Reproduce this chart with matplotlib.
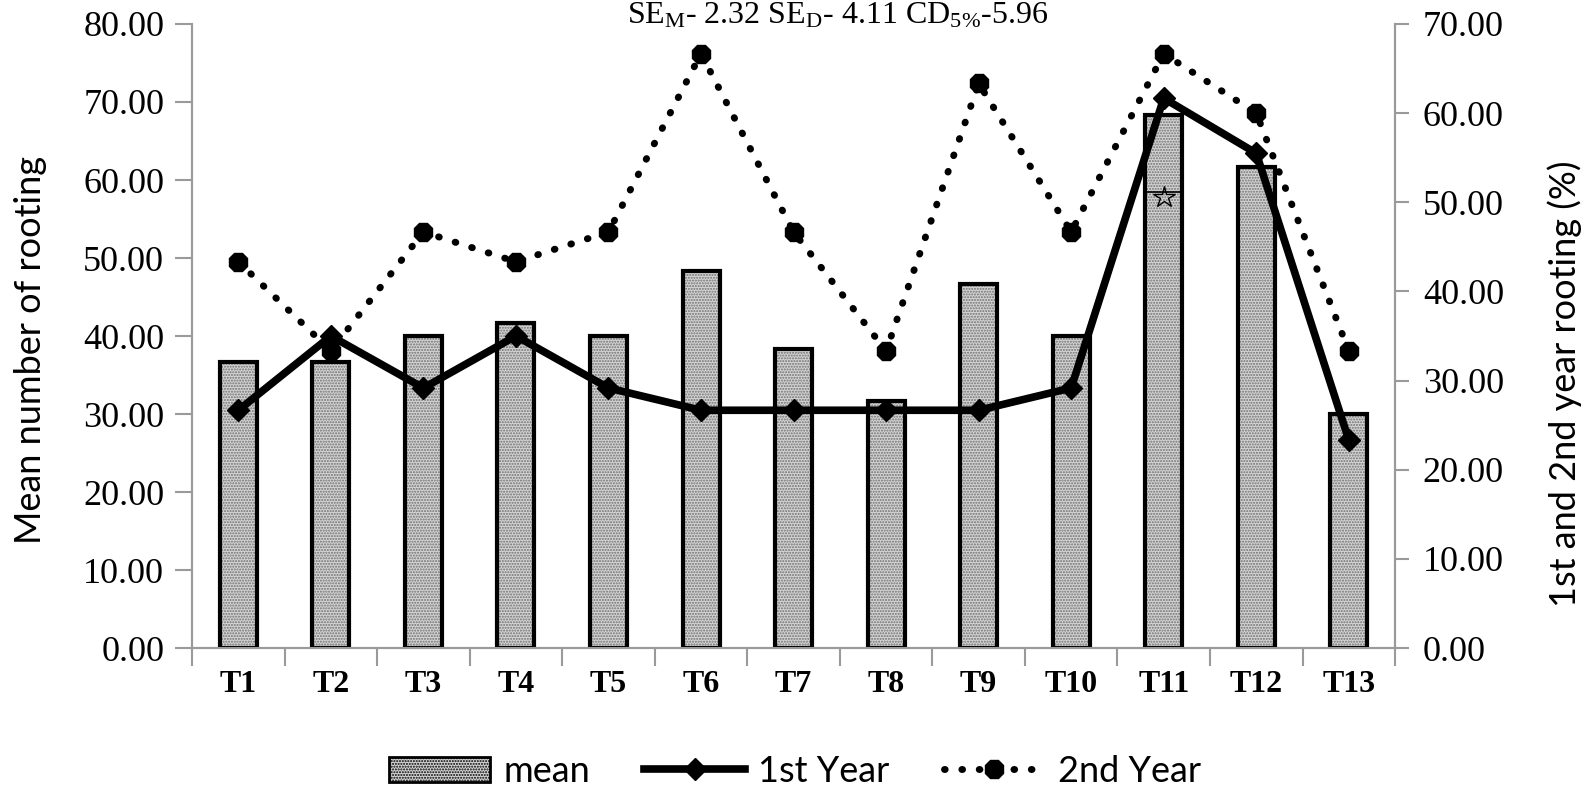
import matplotlib.pyplot as plt
import numpy as np
from matplotlib.patches import Patch
from matplotlib.lines import Line2D

plt.rcParams["mathtext.fontset"] = "custom"
plt.rcParams["mathtext.rm"] = "Liberation Serif"
plt.rcParams["mathtext.it"] = "Liberation Serif"

# Data
treatments = ["T1", "T2", "T3", "T4", "T5", "T6", "T7", "T8", "T9", "T10", "T11", "T12", "T13"]
mean_rooting = [36.67, 36.67, 40.00, 41.67, 40.00, 48.33, 38.33, 31.67, 46.67, 40.00, 68.33, 61.67, 30.00]
first_year = [26.67, 35.00, 29.17, 35.00, 29.17, 26.67, 26.67, 26.67, 26.67, 29.17, 61.67, 55.50, 23.33]
second_year = [43.33, 33.33, 46.67, 43.33, 46.67, 66.67, 46.67, 33.33, 63.33, 46.67, 66.67, 60.00, 33.33]
star_index = 10      # small star drawn inside the T11 bar
star_value = 57.8    # on the left axis

x = np.arange(len(treatments))
bar_w = 0.4
gray = "#9a9a9a"
dots = (0, (0.1, 2.4))

fig = plt.figure(figsize=(15.9, 7.92), dpi=100)
ax = fig.add_axes([0.1208, 0.1818, 0.7566, 0.7879])
ax2 = ax.twinx()

# Bars: hatched fill, then black outline on top
ax.bar(x, mean_rooting, width=bar_w, color="#d4d4d4", hatch="......",
       edgecolor="#707070", linewidth=0, zorder=2)
ax.bar(x, mean_rooting, width=bar_w, fill=False, edgecolor="black",
       linewidth=3, zorder=3)
ax.plot(x[star_index], star_value, marker="*", markersize=16,
        markerfacecolor="none", markeredgecolor="black", markeredgewidth=1, zorder=4)
ax.plot(x[star_index], star_value + 0.7, marker="_", markersize=26,
        markeredgecolor="black", markeredgewidth=1.2, zorder=4)

# Lines on the right axis
ax2.plot(x, first_year, color="black", linewidth=5.5, marker="D", markersize=11,
         zorder=5)
ax2.plot(x, second_year, color="black", linewidth=5, linestyle=dots,
         dash_capstyle="round", marker="8", markersize=14, zorder=5)

ax.set_xlim(-0.5, len(treatments) - 0.5)
ax.set_ylim(0, 80)
ax2.set_ylim(0, 70)
ax.set_yticks(np.arange(0, 81, 10))
ax2.set_yticks(np.arange(0, 71, 10))
ax.set_yticklabels([f"{v:.2f}" for v in np.arange(0, 81, 10)])
ax2.set_yticklabels([f"{v:.2f}" for v in np.arange(0, 71, 10)])

ax.set_xticks(x)
ax.set_xticklabels(treatments, fontfamily="Liberation Serif", fontweight="bold", fontsize=23)
ax.set_xticks(np.arange(-0.5, len(treatments), 1), minor=True)
ax.tick_params(axis="x", which="major", length=0, pad=16)
ax.tick_params(axis="x", which="minor", length=13, width=1.5, color=gray, direction="out")

for a in (ax, ax2):
    for lab in a.get_yticklabels():
        lab.set_fontfamily("Liberation Serif")
        lab.set_fontsize(26)
    for s in a.spines.values():
        s.set_color(gray)
        s.set_linewidth(1.5)
    a.spines["top"].set_visible(False)
ax.tick_params(axis="y", length=12, width=1.5, color=gray, pad=8)
ax2.tick_params(axis="y", length=10, width=1.5, color=gray, pad=10)

ax.set_ylabel("Mean number of rooting", fontfamily="Lato", fontsize=26)
ax2.set_ylabel("1st and 2nd year rooting (%)", fontfamily="Lato", fontsize=26)
ax.yaxis.set_label_coords(-0.121, 0.477)
ax2.yaxis.set_label_coords(1.127, 0.423)

fig.text(0.527, 0.980,
         r"SE$_{\mathrm{M}}$- 2.32 SE$_{\mathrm{D}}$- 4.11 CD$_{\mathrm{5\%}}$-5.96",
         ha="center", va="center", fontfamily="Liberation Serif", fontsize=23)

handles = [
    Patch(facecolor="#d4d4d4", hatch="......", edgecolor="black", linewidth=2),
    Line2D([], [], color="black", linewidth=5.5, marker="D", markersize=11),
    Line2D([], [], color="black", linewidth=5, linestyle=dots,
           dash_capstyle="round", marker="8", markersize=14),
]
fig.legend(handles, ["mean", "1st Year", "2nd Year"], loc="lower center",
           bbox_to_anchor=(0.5, -0.036), ncol=3, frameon=False,
           prop={"family": "Lato", "size": 26}, handlelength=2.8,
           columnspacing=1.5, handletextpad=0.36)

fig.savefig("out.png", dpi=100)
